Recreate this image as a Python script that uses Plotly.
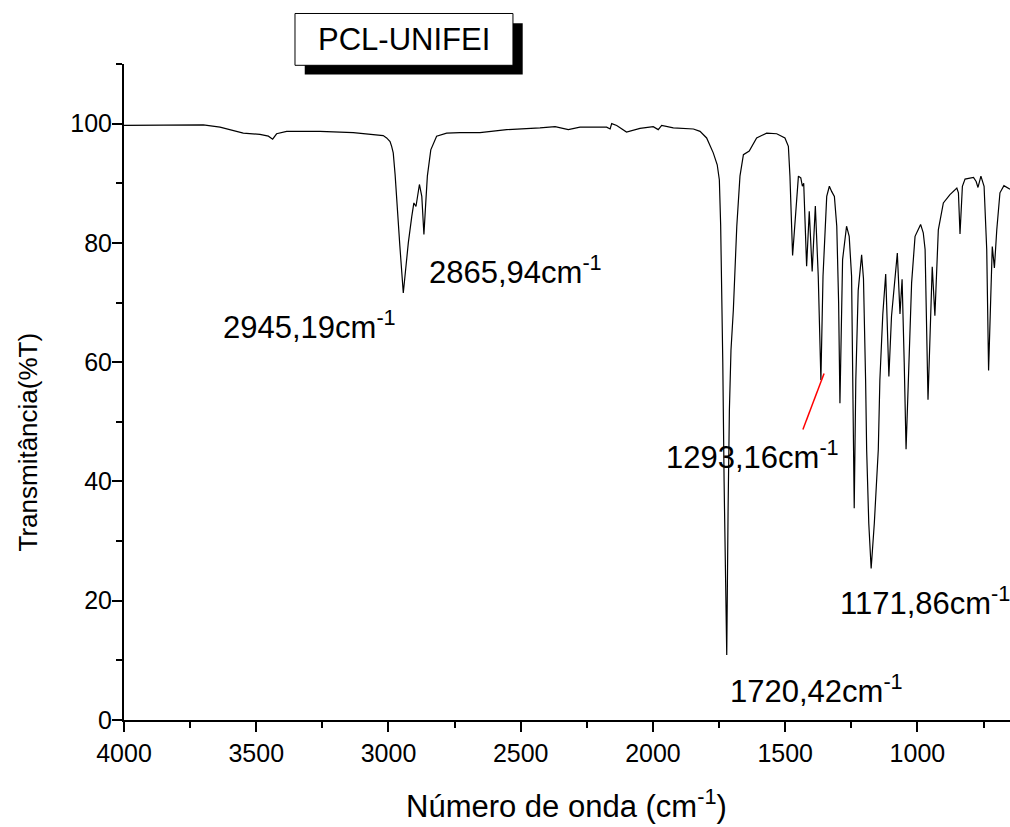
import plotly.graph_objects as go

# Spectrum data (wavenumber cm-1, %T)
wavenumber = [4000, 3900, 3800, 3700, 3637, 3590, 3549, 3486, 3454, 3438, 3423, 3385, 3259, 3133,
              3045, 3020, 3007, 2994, 2988, 2982, 2975, 2969, 2957, 2944, 2935, 2925, 2912, 2904,
              2896, 2883, 2874, 2866, 2860, 2853, 2840, 2818, 2780, 2730, 2654, 2553, 2427, 2370,
              2320, 2276, 2175, 2162, 2156, 2137, 2100, 2049, 1999, 1980, 1967, 1923, 1847, 1822,
              1797, 1772, 1757, 1749, 1744, 1740, 1736, 1731, 1725, 1721, 1716, 1711, 1705, 1696,
              1683, 1671, 1658, 1636, 1608, 1570, 1532, 1501, 1488, 1482, 1472, 1460, 1450, 1441,
              1435, 1430, 1419, 1409, 1398, 1386, 1375, 1365, 1357, 1343, 1333, 1324, 1314, 1305,
              1298, 1293, 1288, 1283, 1268, 1258, 1249, 1244, 1239, 1233, 1224, 1211, 1204, 1196,
              1192, 1184, 1175, 1163, 1148, 1142, 1131, 1120, 1108, 1098, 1076, 1066, 1058, 1050,
              1043, 1035, 1028, 1022, 1009, 988, 978, 971, 960, 944, 934, 921, 902, 877, 851, 845,
              839, 830, 820, 788, 778, 771, 760, 748, 738, 731, 723, 717, 709, 700, 688, 673, 650]
transmittance = [99.7, 99.7, 99.8, 99.8, 99.4, 98.9, 98.4, 98.2, 97.9, 97.4, 98.3, 98.7, 98.7, 98.5,
                 98.2, 98.0, 97.6, 97.0, 96.2, 95.1, 91.5, 87.2, 79.5, 71.6, 75.5, 80.0, 84.4, 86.7,
                 86.1, 89.8, 87.8, 81.4, 86.0, 91.2, 95.6, 97.9, 98.4, 98.5, 98.5, 99.0, 99.3, 99.5,
                 99.0, 99.4, 99.4, 99.1, 100.0, 99.7, 98.6, 99.2, 99.5, 99.0, 99.7, 99.3, 99.1, 98.7,
                 97.6, 95.1, 93.1, 90.6, 83.0, 74.4, 60.0, 40.0, 22.0, 10.9, 35.0, 52.0, 62.0, 68.8,
                 82.8, 91.2, 94.8, 95.4, 97.6, 98.4, 98.3, 97.6, 96.2, 91.2, 77.9, 85.6, 91.2, 90.9,
                 89.5, 90.0, 76.1, 85.3, 75.2, 86.2, 74.4, 57.0, 74.4, 87.8, 89.5, 88.6, 87.8, 82.8,
                 70.0, 53.1, 68.0, 77.2, 82.8, 81.1, 74.4, 56.0, 35.5, 57.0, 72.0, 78.0, 74.0, 57.0,
                 45.3, 33.0, 25.4, 33.0, 45.3, 57.0, 68.0, 74.8, 57.6, 67.7, 78.3, 68.1, 73.9, 60.0,
                 45.4, 56.0, 64.9, 73.3, 81.1, 83.1, 81.7, 78.9, 53.7, 76.0, 67.8, 82.2, 86.7, 88.1, 89.2, 88.4,
                 81.5, 89.5, 90.7, 91.0, 90.3, 89.3, 91.2, 89.5, 78.9, 58.6, 70.5, 79.4, 75.8, 82.2, 88.4, 89.6, 89.0]

# Peak labels: text, left x (cm-1), y (%T)
peak_labels = ["2945,19cm<sup>-1</sup>", "2865,94cm<sup>-1</sup>", "1293,16cm<sup>-1</sup>",
               "1720,42cm<sup>-1</sup>", "1171,86cm<sup>-1</sup>"]
peak_label_x = [3633, 2855, 1960, 1716, 1300]
peak_label_y = [66.3, 75.5, 44.5, 5.2, 19.9]

x_ticks = [4000, 3500, 3000, 2500, 2000, 1500, 1000]
y_ticks = [0, 20, 40, 60, 80, 100]

FONT = "Arial, Liberation Sans, sans-serif"

fig = go.Figure()
fig.add_trace(go.Scatter(x=wavenumber, y=transmittance, mode="lines",
                         line=dict(color="black", width=1.2), showlegend=False,
                         hoverinfo="x+y"))

ann = []
for t, x, y in zip(peak_labels, peak_label_x, peak_label_y):
    ann.append(dict(x=x, y=y, xref="x", yref="y", text=t, showarrow=False,
                    xanchor="left", yanchor="middle",
                    font=dict(family=FONT, size=31, color="black")))

# axis titles
ann.append(dict(x=-0.108, y=0.4235, xref="paper", yref="paper", text="Transmitância(%T)",
                textangle=-90, showarrow=False, xanchor="center", yanchor="middle",
                font=dict(family=FONT, size=26, color="black")))
ann.append(dict(x=0.499, y=-0.1285, xref="paper", yref="paper", text="Número de onda (cm<sup>-1</sup>)",
                showarrow=False, xanchor="center", yanchor="middle",
                font=dict(family=FONT, size=31, color="black")))
# title box text
ann.append(dict(x=0.316, y=1.0375, xref="paper", yref="paper", text="PCL-UNIFEI",
                showarrow=False, xanchor="center", yanchor="middle",
                font=dict(family=FONT, size=31, color="black")))

shapes = [
    dict(type="rect", xref="paper", yref="paper", x0=0.204, x1=0.450, y0=0.984, y1=1.062,
         fillcolor="black", line=dict(color="black", width=0), layer="above"),
    dict(type="rect", xref="paper", yref="paper", x0=0.193, x1=0.439, y0=0.998, y1=1.077,
         fillcolor="white", line=dict(color="black", width=1), layer="above"),
    dict(type="line", xref="x", yref="y", x0=1433, y0=48.7, x1=1353, y1=58.1,
         line=dict(color="red", width=1.5), layer="above"),
]

fig.update_layout(
    width=1010, height=827,
    margin=dict(l=124, r=0, t=64, b=107),
    paper_bgcolor="white", plot_bgcolor="white",
    annotations=ann, shapes=shapes,
    font=dict(family=FONT, color="black"),
    xaxis=dict(range=[4000, 650], tickmode="array", tickvals=x_ticks,
               ticktext=[str(v) for v in x_ticks],
               showgrid=False, zeroline=False, showline=True, linecolor="black", linewidth=2,
               ticks="outside", ticklen=10, tickwidth=2, tickcolor="black",
               tickfont=dict(family=FONT, size=25, color="black"),
               minor=dict(dtick=250, tick0=0, ticks="outside", ticklen=6, tickwidth=2,
                          tickcolor="black", showgrid=False)),
    yaxis=dict(range=[0, 110], tickmode="array", tickvals=y_ticks,
               ticktext=[str(v) for v in y_ticks],
               showgrid=False, zeroline=False, showline=True, linecolor="black", linewidth=2,
               ticks="outside", ticklen=10, tickwidth=2, tickcolor="black",
               ticklabelstandoff=-5,
               tickfont=dict(family=FONT, size=25, color="black"),
               minor=dict(dtick=10, tick0=0, ticks="outside", ticklen=6, tickwidth=2,
                          tickcolor="black", showgrid=False)),
)

fig.write_html("out.html")
